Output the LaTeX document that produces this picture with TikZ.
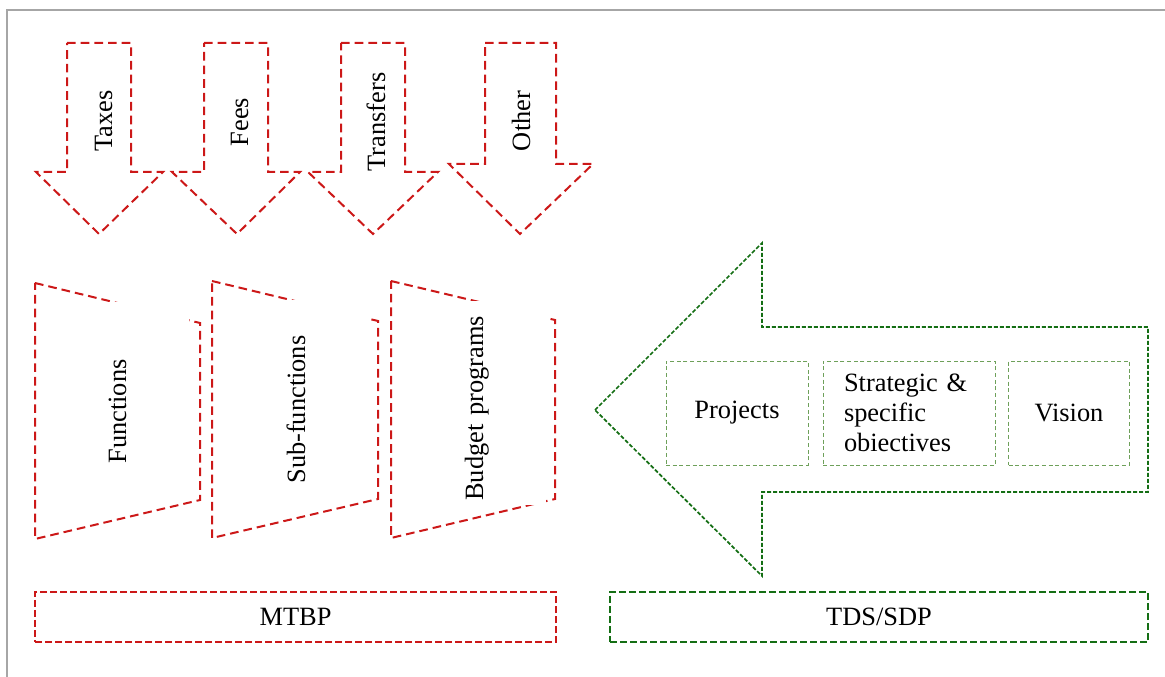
\documentclass[tikz,border=0pt]{standalone}
\usepackage{fontspec}
\setmainfont{Liberation Serif}
\usetikzlibrary{positioning}
\definecolor{revred}{RGB}{204,24,24}
\definecolor{tdsgreen}{RGB}{20,110,20}
\definecolor{boxgreen}{RGB}{110,160,90}

\begin{document}
\begin{tikzpicture}[x=0.75pt, y=-0.75pt, font=\fontsize{19.8}{22.5}\selectfont,
  redline/.style={draw=revred, line width=1.5pt, dash pattern=on 6.5pt off 3.75pt},
  grnline/.style={draw=tdsgreen, line width=1.3pt, dash pattern=on 3pt off 1.5pt},
  inbox/.style={draw=boxgreen, line width=0.6pt, dash pattern=on 3pt off 2pt, minimum height=78pt, inner sep=0pt},
  vlabel/.style={rotate=90, anchor=base, inner sep=0pt},
  tlabel/.style={rotate=90, fill=white, inner sep=0pt, inner xsep=4pt, align=left, text height=19.5pt, text depth=47.25pt},
  basebox/.style={line width=1.4pt, minimum height=37.5pt, dash pattern=on 5pt off 2.5pt}]
  \useasboundingbox (0,0) rectangle (1165,677);
  \draw[gray!70, line width=0.8pt] (7,677) -- (7,10) -- (1165,10);

  % revenue arrows
  \foreach \sl/\sr/\sb/\hl/\hr/\tx in {67/131/172/36/163/99, 204/268/172/172/300/237,
      341/405/172/308/438/373, 485/556/164/449/593/520}
    \draw[redline] (\sl,43) -- (\sr,43) -- (\sr,\sb) -- (\hr,\sb) -- (\tx,234)
      -- (\hl,\sb) -- (\sl,\sb) -- cycle;
  \node[vlabel] (taxes) at (112,121) {Taxes};
  \node[vlabel] (fees) at (248,122) {Fees};
  \node[vlabel] (transfers) at (385,122) {Transfers};
  \node[vlabel] (other) at (530,121) {Other};

  % classification panels
  \draw[redline] (35,283) -- (200,323) -- (200,500) -- (35,539) -- cycle;
  \draw[redline] (212,281) -- (378,321) -- (378,499) -- (212,538) -- cycle;
  \draw[redline] (391,281) -- (555,320) -- (555,499) -- (391,538) -- cycle;
  \node[tlabel, text width=117.25pt] (functions) at (144.5,385.5) {Functions};
  \node[tlabel, text width=133.75pt] (subfunctions) at (323.5,394.5) {Sub-functions};
  \node[tlabel, text width=146.5pt, inner xsep=3pt] (programs) at (501.5,403) {Budget programs};

  % strategy arrow
  \draw[grnline] (595,410) -- (762,243) -- (762,327) -- (1148,327) -- (1148,492)
    -- (762,492) -- (762,576) -- cycle;
  \node[inbox, minimum width=106.5pt] (projects) at (737,413) {Projects};
  \node[inbox, minimum width=129pt, text width=97.5pt, inner xsep=15.75pt, align=left]
    (objectives) at (909,413) {Strategic \&\\specific\\obiectives};
  \node[inbox, minimum width=90.75pt] (vision) at (1069,413) {Vision};

  % frameworks
  \node[basebox, draw=revred, minimum width=390.75pt] (mtbp) at (295.5,617) {MTBP};
  \node[basebox, draw=tdsgreen, minimum width=403.5pt] (tds) at (879,617) {TDS/SDP};
\end{tikzpicture}
\end{document}
